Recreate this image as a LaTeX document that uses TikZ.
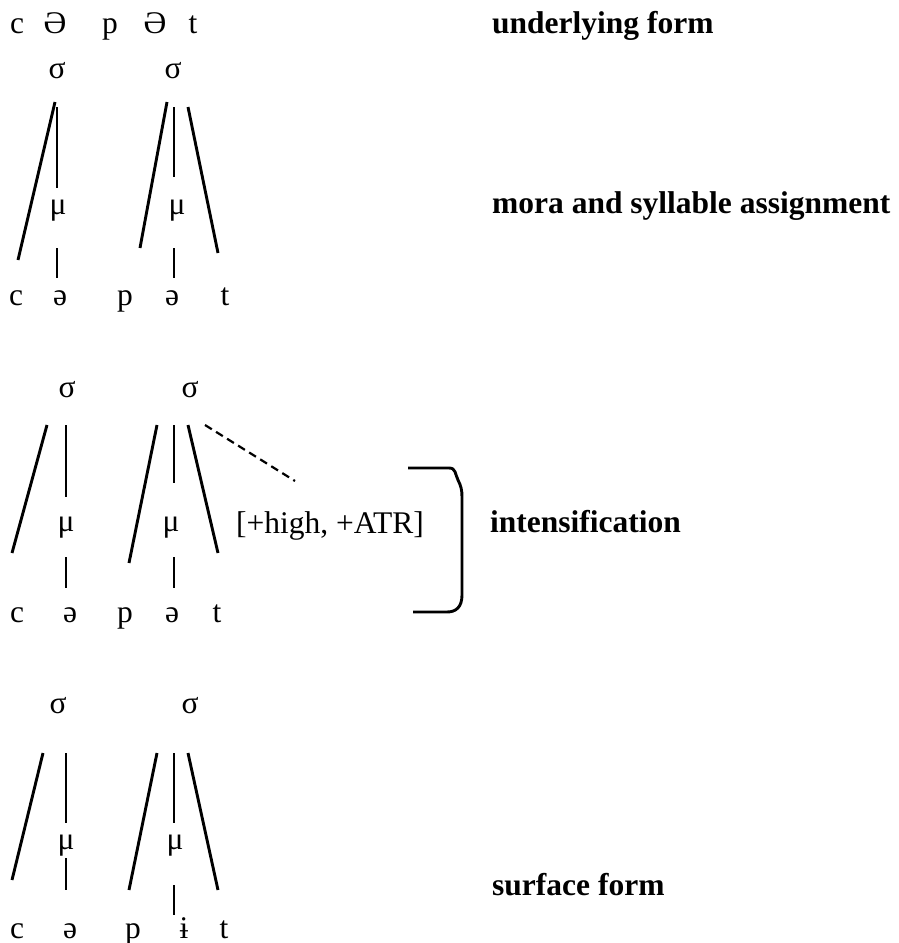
\documentclass[tikz,border=0pt]{standalone}
\usepackage{fontspec}
\setmainfont{Liberation Serif}
\begin{document}
\begin{tikzpicture}[x=1pt,y=-1pt,
  seg/.style={inner sep=0pt,anchor=base,font=\fontsize{31.5}{36}\selectfont},
  lab/.style={inner sep=0pt,anchor=base west,font=\fontsize{31.5}{36}\selectfont\bfseries},
  assoc/.style={line width=2.9pt},
  floating/.style={line width=2.2pt,dash pattern=on 8pt off 5pt},
  brace/.style={line width=2.9pt,line join=round}]
\useasboundingbox (0,0) rectangle (899,943);

% ---- underlying form ----
\node[seg] (u1) at (17,33) {c};
\node[seg] (u2) at (55,33) {Ə};
\node[seg] (u3) at (110,33) {p};
\node[seg] (u4) at (155,33) {Ə};
\node[seg] (u5) at (193,33) {t};
\node[lab] (lu) at (492,33) {underlying form};

% ---- mora and syllable assignment ----
\node[seg] (as1) at (57,78) {σ};
\node[seg] (as2) at (173,78) {σ};
\node[seg] (am1) at (58,214) {μ};
\node[seg] (am2) at (177,214) {μ};
\node[seg] (ac) at (16,305) {c};
\node[seg] (ae1) at (60,305) {ə};
\node[seg] (ap) at (125,305) {p};
\node[seg] (ae2) at (172,305) {ə};
\node[seg] (at) at (225,305) {t};
\node[lab] (la) at (492,213) {mora and syllable assignment};

\coordinate (a1) at (55,102);  \coordinate (a2) at (18,260);
\coordinate (a3) at (57,107);  \coordinate (a4) at (57,188);
\coordinate (a5) at (57,248);  \coordinate (a6) at (57,278);
\coordinate (a7) at (167,102); \coordinate (a8) at (140,248);
\coordinate (a9) at (174,107); \coordinate (a10) at (174,177);
\coordinate (a11) at (188,107); \coordinate (a12) at (218,253);
\coordinate (a13) at (174,248); \coordinate (a14) at (174,278);
\draw[assoc] (a1) -- (a2);
\draw[assoc] (a3) -- (a4);
\draw[assoc] (a5) -- (a6);
\draw[assoc] (a7) -- (a8);
\draw[assoc] (a9) -- (a10);
\draw[assoc] (a11) -- (a12);
\draw[assoc] (a13) -- (a14);

% ---- intensification ----
\node[seg] (is1) at (67,397) {σ};
\node[seg] (is2) at (190,397) {σ};
\node[seg] (im1) at (66,531) {μ};
\node[seg] (im2) at (171,531) {μ};
\node[seg] (ic) at (17,622) {c};
\node[seg] (ie1) at (70,622) {ə};
\node[seg] (ip) at (125,622) {p};
\node[seg] (ie2) at (172,622) {ə};
\node[seg] (it) at (217,622) {t};
\node[seg] (feat) at (330,533) {[+high, +ATR]};
\node[lab] (li) at (490,532) {intensification};

\coordinate (b1) at (47,425);  \coordinate (b2) at (12,553);
\coordinate (b3) at (66,425);  \coordinate (b4) at (66,497);
\coordinate (b5) at (66,557);  \coordinate (b6) at (66,588);
\coordinate (b7) at (157,425); \coordinate (b8) at (129,563);
\coordinate (b9) at (174,425); \coordinate (b10) at (174,483);
\coordinate (b11) at (188,425); \coordinate (b12) at (218,553);
\coordinate (b13) at (174,557); \coordinate (b14) at (174,588);
\coordinate (b15) at (205,425); \coordinate (b16) at (295,481);
\draw[assoc] (b1) -- (b2);
\draw[assoc] (b3) -- (b4);
\draw[assoc] (b5) -- (b6);
\draw[assoc] (b7) -- (b8);
\draw[assoc] (b9) -- (b10);
\draw[assoc] (b11) -- (b12);
\draw[assoc] (b13) -- (b14);
\draw[floating] (b15) -- (b16);

% bracket closing the intensification step
\coordinate (k1) at (408,468);
\coordinate (k2) at (462,497);
\coordinate (k3) at (462,595);
\coordinate (k4) at (413,612);
\draw[brace] (k1) -- (449,468) .. controls (456,468) and (455,474) .. (458,480)
  .. controls (461,486) and (462,490) .. (k2) -- (k3)
  .. controls (462,607) and (456,612) .. (447,612) -- (k4);

% ---- surface form ----
\node[seg] (ss1) at (58,713) {σ};
\node[seg] (ss2) at (190,713) {σ};
\node[seg] (sm1) at (66,849) {μ};
\node[seg] (sm2) at (175,849) {μ};
\node[seg] (sc) at (17,938) {c};
\node[seg] (se) at (70,938) {ə};
\node[seg] (sp) at (133,938) {p};
\node[seg] (si) at (184,938) {ɨ};
\node[seg] (st) at (224,938) {t};
\node[lab] (ls) at (492,895) {surface form};

\coordinate (c1) at (43,753);  \coordinate (c2) at (12,880);
\coordinate (c3) at (66,753);  \coordinate (c4) at (66,823);
\coordinate (c5) at (66,858);  \coordinate (c6) at (66,890);
\coordinate (c7) at (157,753); \coordinate (c8) at (129,890);
\coordinate (c9) at (174,753); \coordinate (c10) at (174,823);
\coordinate (c11) at (188,753); \coordinate (c12) at (218,890);
\coordinate (c13) at (174,885); \coordinate (c14) at (174,915);
\draw[assoc] (c1) -- (c2);
\draw[assoc] (c3) -- (c4);
\draw[assoc] (c5) -- (c6);
\draw[assoc] (c7) -- (c8);
\draw[assoc] (c9) -- (c10);
\draw[assoc] (c11) -- (c12);
\draw[assoc] (c13) -- (c14);
\end{tikzpicture}
\end{document}
